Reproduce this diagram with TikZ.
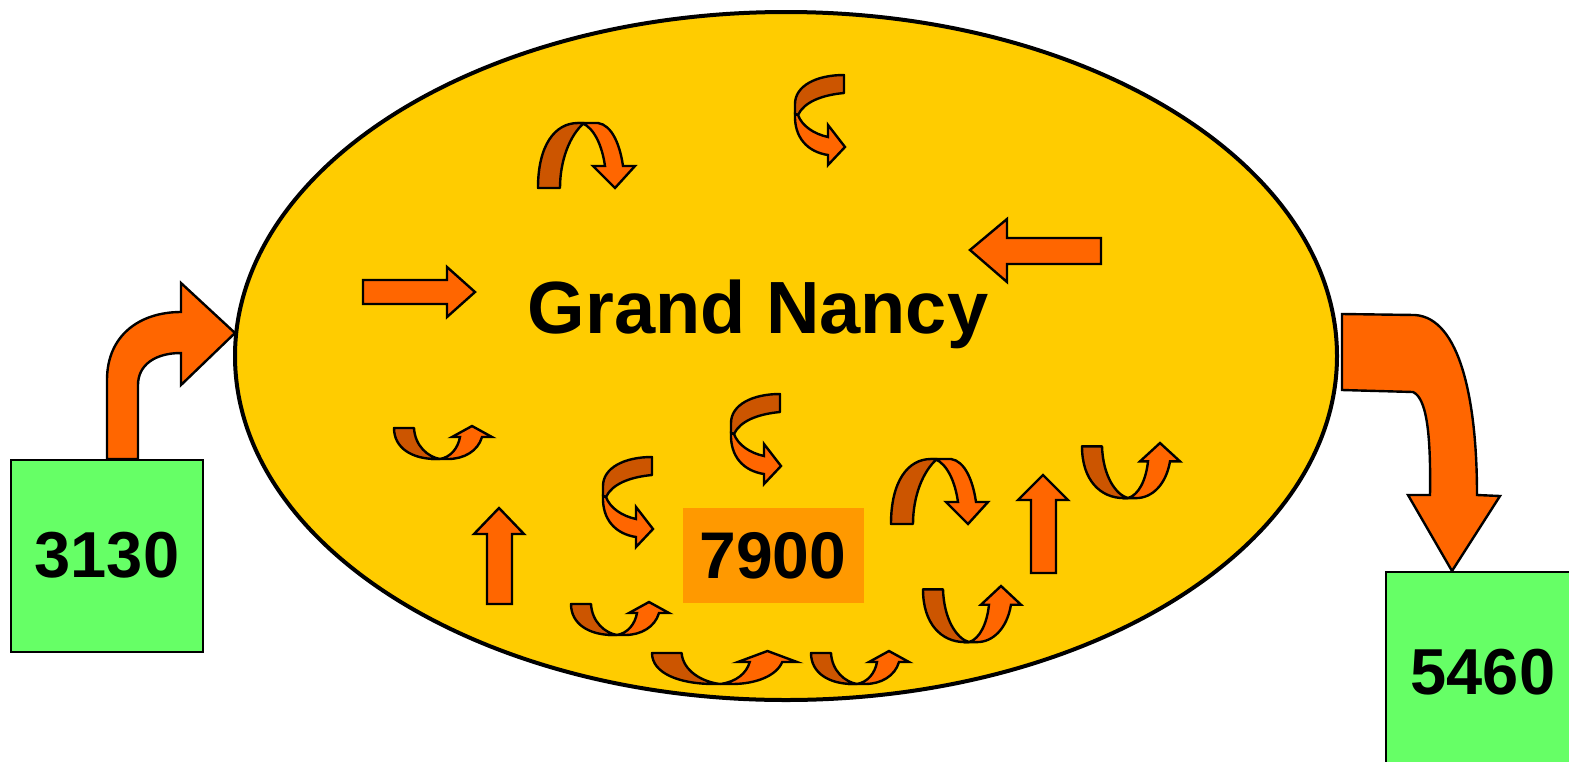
\documentclass[tikz,border=0pt]{standalone}
\usepackage{fontspec}
\setmainfont{Liberation Sans}
\usetikzlibrary{shapes.geometric}

\definecolor{nancyyellow}{HTML}{FFCC00}
\definecolor{arroworange}{HTML}{FF6600}
\definecolor{arrowdark}{HTML}{CC5500}
\definecolor{boxgreen}{HTML}{66FF66}
\definecolor{stockorange}{HTML}{FF9900}

\tikzset{
  rearpart/.style={fill=arrowdark,draw=black,line width=1.2pt,line join=round},
  frontpart/.style={fill=arroworange,draw=black,line width=1.2pt},
  flowbox/.style={draw=black,line width=1pt,fill=boxgreen,inner sep=0pt,
    minimum width=96pt,minimum height=96pt,font=\fontsize{32.5}{36}\selectfont\bfseries},
  arch/.pic={
    \path[rearpart] (0,65) .. controls (0,22) and (17,0) .. (40,0) -- (46,0) .. controls (32,12) and (22,37) .. (22,65) -- cycle;
    \path[frontpart] (44,0) -- (60,0) .. controls (74,2) and (82,22) .. (85,43) -- (97,43) -- (77,65) -- (55,43) -- (67,43) .. controls (64,22) and (56,5) .. (44,0) -- cycle;
  },
  cup/.pic={
    \path[rearpart] (0,2) -- (20,2) .. controls (21,20) and (34,31) .. (46,33) -- (42,33) .. controls (18,33) and (0,22) .. (0,2) -- cycle;
    \path[frontpart] (46,33) .. controls (57,31) and (64,22) .. (66,11) -- (58,11) -- (78,0) -- (98,11) -- (88,11) .. controls (84,25) and (70,33) .. (54,33) -- cycle;
  },
  hook/.pic={
    \path[rearpart] (50,1) -- (50,19) .. controls (28,21) and (10,28) .. (4,41) -- (1,40) -- (1,30) .. controls (1,12) and (22,1) .. (50,1) -- cycle;
    \path[frontpart] (1,40) -- (4,41) .. controls (8,52) and (20,60) .. (34,63) -- (34,51) -- (51,73) -- (34,91) -- (34,81) .. controls (14,78) and (0,64) .. (1,40) -- cycle;
  }
}

\begin{document}
\begin{tikzpicture}[x=0.5pt,y=-0.5pt]
    \useasboundingbox (0,0) rectangle (1569,761);
    \clip (0,0) rectangle (1569,761);

    \node[ellipse,draw=black,line width=2pt,fill=nancyyellow,inner sep=0pt,
      minimum width=551pt,minimum height=344pt] (nancy) at (786,356) {};
    \node[anchor=base,font=\fontsize{37}{40}\selectfont\bfseries] (nancylbl) at (758,333) {Grand Nancy};
    \node[fill=stockorange,inner sep=0pt,minimum width=90.5pt,minimum height=47.5pt,
      font=\fontsize{33}{36}\selectfont\bfseries] (stock) at (773,555.5) {7900};

    % flows in and out
    \path[frontpart] (107,459) -- (107,380) .. controls (107,335) and (140,312) .. (181,312) -- (181,283) -- (235,333)
      -- (181,385) -- (181,353) .. controls (155,353) and (138,365) .. (138,385) -- (138,459) -- cycle;
    \path[frontpart] (1342,314) -- (1415,315) .. controls (1460,318) and (1477,400) .. (1477,495) -- (1500,496) -- (1452,571)
      -- (1408,495) -- (1430,495) .. controls (1431,430) and (1426,398) .. (1413,392) -- (1342,390) -- cycle;

    \node[flowbox] (src) at (107,555.5) {3130};
    \node[flowbox,anchor=north,minimum width=97pt,minimum height=100pt] (dst) at (1483,571) {5460};

    % moves inside
    \path[frontpart] (363,280) -- (447,280) -- (447,267) -- (475,292) -- (447,317) -- (447,304) -- (363,304) -- cycle;
    \path[frontpart] (1101,238) -- (1007,238) -- (1007,219) -- (970,250) -- (1007,282) -- (1007,264) -- (1101,264) -- cycle;
    \path[frontpart] (487,604) -- (487,534) -- (474,534) -- (499,508) -- (524,534) -- (512,534) -- (512,604) -- cycle;
    \path[frontpart] (1031,573) -- (1031,500) -- (1018,500) -- (1043,475) -- (1068,500) -- (1056,500) -- (1056,573) -- cycle;

    \pic at (538,123) {arch};
    \pic at (891,459) {arch};

    \pic at (794,74) {hook};
    \pic at (602,456) {hook};
    \pic at (730,393) {hook};

    \pic at (394,426) {cup};
    \pic at (571,602) {cup};
    \pic[xscale=1.48] at (652,651) {cup};
    \pic at (811,651) {cup};
    \pic[yscale=1.7] at (923,586) {cup};
    \pic[yscale=1.67] at (1082,443) {cup};
\end{tikzpicture}
\end{document}
